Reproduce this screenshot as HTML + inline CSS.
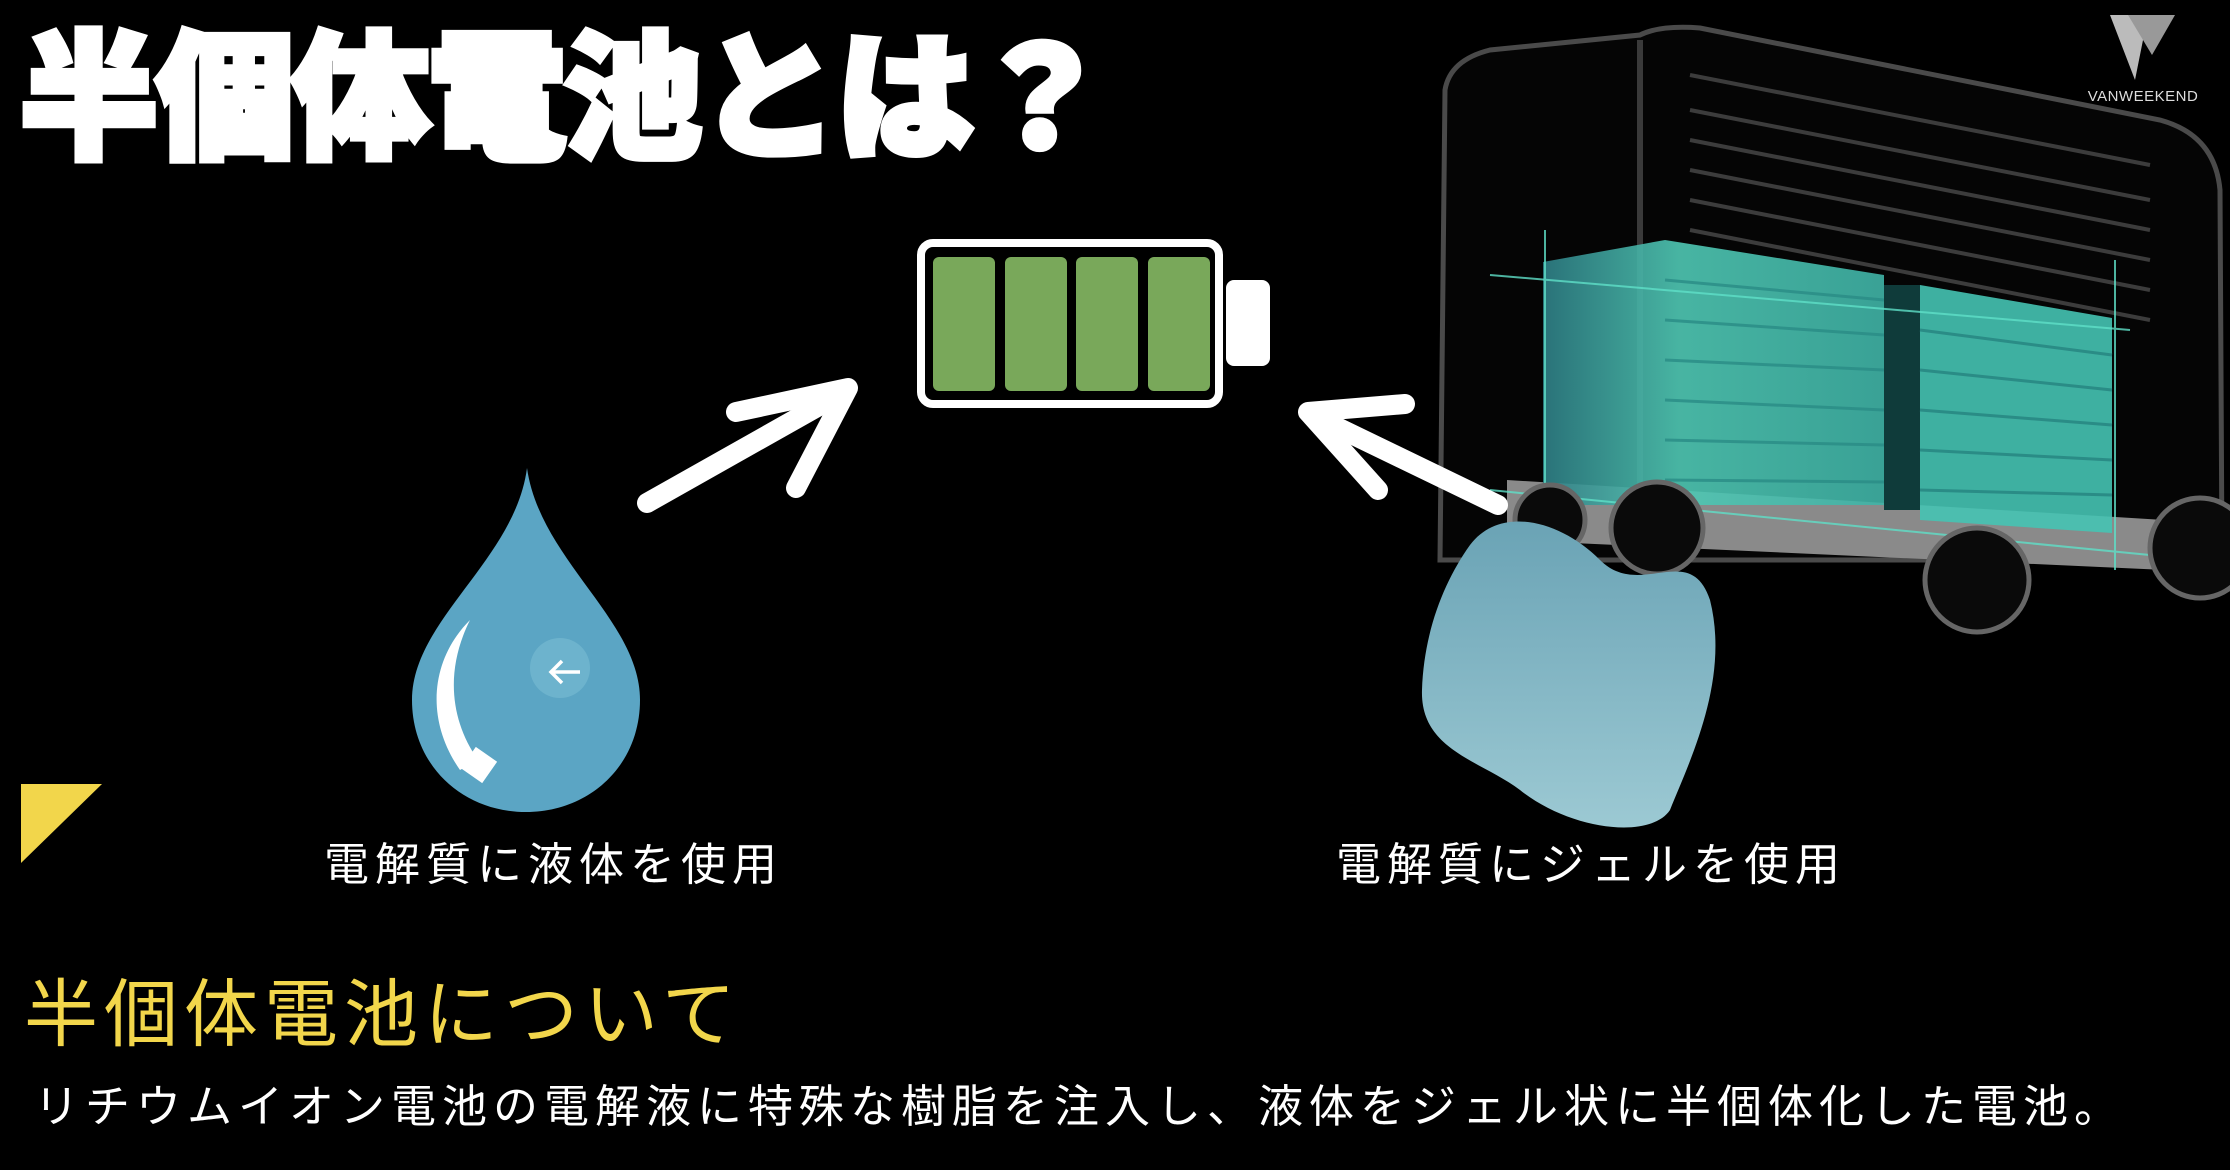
<!DOCTYPE html>
<html><head><meta charset="utf-8"><style>
html,body{margin:0;padding:0;background:#000;}
body{width:2230px;height:1170px;position:relative;overflow:hidden;font-family:"Liberation Sans","Noto Sans CJK JP",sans-serif;}
.t{position:absolute;white-space:nowrap;}
#title{left:20px;top:20px;font-size:138px;font-weight:900;color:#fff;-webkit-text-stroke:7px #fff;letter-spacing:-2px;line-height:160px;}
.lbl{font-size:45px;color:#fff;line-height:50px;letter-spacing:6px;}
#sub{left:24px;top:970px;font-size:74px;color:#f2d64b;line-height:90px;letter-spacing:6px;}
#desc{left:34px;top:1080px;font-size:45px;color:#fff;line-height:54px;letter-spacing:6px;}
</style></head><body>
<svg width="2230" height="1170" style="position:absolute;left:0;top:0">
  <defs>
    <linearGradient id="tl" x1="0" x2="1"><stop offset="0" stop-color="#2e7f86"/><stop offset="0.4" stop-color="#4fc8b4"/><stop offset="1" stop-color="#3fb3a6"/></linearGradient>
    <linearGradient id="bl" x1="0" y1="0" x2="0" y2="1"><stop offset="0" stop-color="#6aa3b5"/><stop offset="1" stop-color="#9cc9d3"/></linearGradient>
  </defs>
  <g>
    <path d="M1445 90 Q1450 60 1490 50 L1640 35 Q1660 25 1700 28 L2160 120 Q2215 135 2220 190 L2222 560 L1440 560 Z" fill="#050505" stroke="#4a4a4a" stroke-width="5"/>
    <path d="M1640 40 L1640 540" stroke="#3a3a3a" stroke-width="6"/>
    <g stroke="#3c3c3c" stroke-width="4">
      <line x1="1690" y1="110" x2="2150" y2="200"/><line x1="1690" y1="140" x2="2150" y2="230"/>
      <line x1="1690" y1="170" x2="2150" y2="260"/><line x1="1690" y1="200" x2="2150" y2="290"/>
      <line x1="1690" y1="230" x2="2150" y2="320"/><line x1="1690" y1="75" x2="2150" y2="165"/>
    </g>
    <polygon points="1507,480 2165,520 2165,570 1507,540" fill="#8a8a8a"/>
    <polygon points="1543,262 1665,240 1884,275 1884,505 1543,505" fill="url(#tl)" opacity="0.9"/>
    <g stroke="#2a8c86" stroke-width="3" opacity="0.8">
      <line x1="1665" y1="280" x2="1884" y2="300"/><line x1="1665" y1="320" x2="1884" y2="335"/>
      <line x1="1665" y1="360" x2="1884" y2="370"/><line x1="1665" y1="400" x2="1884" y2="410"/>
      <line x1="1665" y1="440" x2="1884" y2="445"/><line x1="1665" y1="480" x2="1884" y2="482"/>
    </g>
    <rect x="1884" y="285" width="36" height="225" fill="#0f3b3a"/>
    <polygon points="1920,285 2112,318 2112,533 1920,520" fill="#45c3b2" opacity="0.9"/>
    <g stroke="#2a8c86" stroke-width="3">
      <line x1="1920" y1="330" x2="2112" y2="355"/><line x1="1920" y1="370" x2="2112" y2="390"/>
      <line x1="1920" y1="410" x2="2112" y2="425"/><line x1="1920" y1="450" x2="2112" y2="460"/>
      <line x1="1920" y1="490" x2="2112" y2="495"/>
    </g>
    <g stroke="#5fe0c8" stroke-width="2" opacity="0.8">
      <line x1="1490" y1="275" x2="2130" y2="330"/><line x1="1490" y1="490" x2="2200" y2="560"/>
      <line x1="1545" y1="230" x2="1545" y2="560"/><line x1="2115" y1="260" x2="2115" y2="570"/>
    </g>
    <g fill="#0a0a0a" stroke="#666" stroke-width="5">
      <circle cx="1657" cy="528" r="46"/><circle cx="1977" cy="580" r="52"/><circle cx="2200" cy="548" r="50"/><circle cx="1550" cy="520" r="35"/>
    </g>
  </g>
  <polygon points="2110,15 2148,15 2135,80" fill="#bbb"/>
  <polygon points="2128,15 2175,15 2152,55" fill="#999"/>
  <text x="2143" y="101" font-size="15" fill="#ddd" text-anchor="middle" font-family="Liberation Sans" letter-spacing="0.5">VANWEEKEND</text>
  <rect x="921" y="243" width="298" height="161" rx="12" fill="#000" stroke="#fff" stroke-width="8"/>
  <rect x="1226" y="280" width="44" height="86" rx="8" fill="#fff"/>
  <g fill="#79a85a">
    <rect x="933" y="257" width="62" height="134" rx="6"/><rect x="1005" y="257" width="62" height="134" rx="6"/>
    <rect x="1076" y="257" width="62" height="134" rx="6"/><rect x="1148" y="257" width="62" height="134" rx="6"/>
  </g>
  <g stroke="#fff" stroke-width="20" fill="none" stroke-linecap="round" stroke-linejoin="round">
    <path d="M647 503 L842 393"/>
    <path d="M736 412 L848 388 L796 488"/>
    <path d="M1498 505 L1312 415"/>
    <path d="M1405 404 L1308 412 L1378 490"/>
  </g>
  <path d="M527 468 C540 560 640 620 640 700 C640 765 590 812 526 812 C462 812 412 765 412 700 C412 620 515 560 527 468 Z" fill="#5ba5c4"/>
  <path d="M470 620 C430 660 425 720 460 770 L478 760 C450 720 445 670 470 620 Z" fill="#fff"/>
  <rect x="466" y="752" width="26" height="26" fill="#fff" transform="rotate(35 479 765)"/>
  <circle cx="560" cy="668" r="30" fill="#7fc2d6" opacity="0.5"/>
  <path d="M580 672 L552 672 M562 661 L551 672 L562 683" stroke="#fff" stroke-width="3.5" fill="none"/>
  <path d="M1470 545 C1500 505 1560 520 1600 560 C1640 600 1690 540 1710 600 C1730 680 1690 760 1670 810 C1650 840 1570 830 1520 790 C1480 760 1420 750 1422 690 C1424 630 1445 580 1470 545 Z" fill="url(#bl)"/>
  <polygon points="21,784 102,784 21,863" fill="#f2d64b"/>
</svg>
<div class="t" id="title">半個体電池とは？</div>
<div class="t lbl" style="left:324px;top:840px;">電解質に液体を使用</div>
<div class="t lbl" style="left:1336px;top:840px;">電解質にジェルを使用</div>
<div class="t" id="sub">半個体電池について</div>
<div class="t" id="desc">リチウムイオン電池の電解液に特殊な樹脂を注入し、液体をジェル状に半個体化した電池。</div>
</body></html>
